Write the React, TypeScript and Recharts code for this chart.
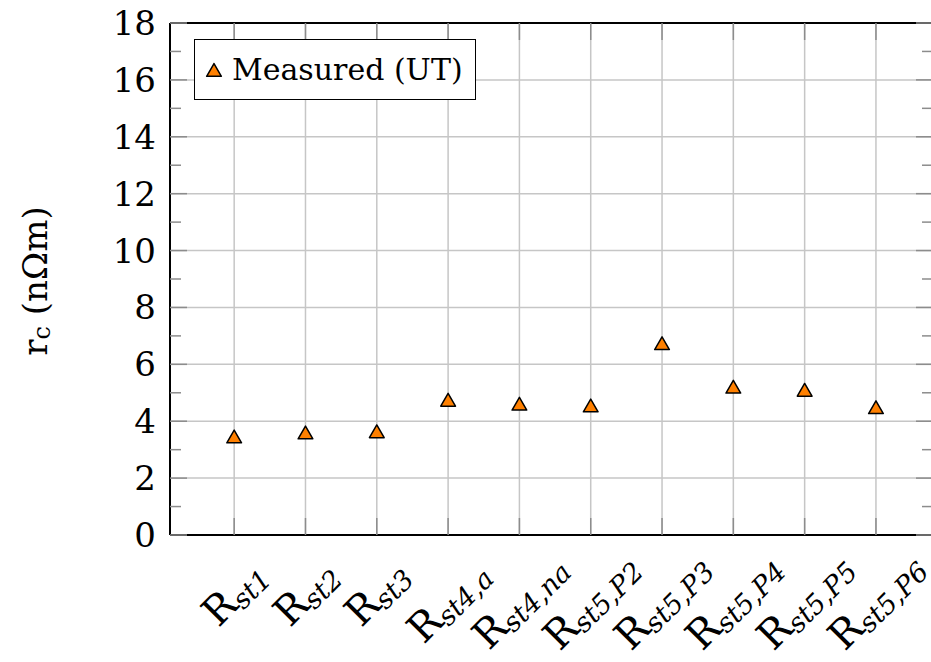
import React from "react";
import {
  ScatterChart,
  Scatter,
  XAxis,
  YAxis,
  CartesianGrid,
  Legend,
  ReferenceLine,
} from "recharts";

// subscripts of the sample names, drawn as R_{...}
const subscripts = ["st1", "st2", "st3", "st4,a", "st4,na", "st5,P2", "st5,P3", "st5,P4", "st5,P5", "st5,P6"];
// contact resistivity r_c in nOhm*m
const measured = [3.39, 3.53, 3.57, 4.68, 4.54, 4.48, 6.67, 5.14, 5.03, 4.42];
const xTicks = [1, 2, 3, 4, 5, 6, 7, 8, 9, 10];
const yMajorTicks = [0, 2, 4, 6, 8, 10, 12, 14, 16, 18];
const yAllTicks = [0, 1, 2, 3, 4, 5, 6, 7, 8, 9, 10, 11, 12, 13, 14, 15, 16, 17, 18];

const data = subscripts.map((s, i) => ({ x: xTicks[i], y: measured[i], label: s }));

const FONT = "DejaVu Serif";
const ORANGE = "#ff8000";
const GRID = "#c6c6c6";
const TICK = "#8c8c8c";

const PLOT_LEFT = 170;
const PLOT_RIGHT = 933;
const PLOT_TOP = 23;
const PLOT_BOTTOM = 535;

const Triangle = (props: any) => {
  const { cx, cy } = props;
  const r = 8.5;
  const h = r * Math.cos(Math.PI / 6);
  return (
    <polygon
      points={`${cx},${cy - r} ${cx - h},${cy + r / 2} ${cx + h},${cy + r / 2}`}
      fill={ORANGE}
      stroke="#000"
      strokeWidth={1.5}
      strokeLinejoin="round"
    />
  );
};

const XTick = (props: any) => {
  const { x, payload } = props;
  const sub = subscripts[payload.value - 1];
  const cy = sub.includes(",") ? 601 : 593;
  return (
    <g>
      <line x1={x} x2={x} y1={PLOT_BOTTOM} y2={PLOT_BOTTOM - 17} stroke={TICK} strokeWidth={1.5} />
      <line x1={x} x2={x} y1={PLOT_TOP} y2={PLOT_TOP + 17} stroke={TICK} strokeWidth={1.5} />
      <text
        x={x}
        y={cy}
        transform={`rotate(-45 ${x} ${cy})`}
        textAnchor="middle"
        dominantBaseline="central"
        fontFamily={FONT}
        fontSize={40}
        fill="#000"
      >
        R
        <tspan fontStyle="italic" fontSize={27} dy={9}>
          {sub}
        </tspan>
      </text>
    </g>
  );
};

const YTick = (props: any) => {
  const { y, payload } = props;
  const v = payload.value;
  const major = v % 2 === 0;
  const len = major ? 17 : 11;
  return (
    <g>
      <line x1={PLOT_LEFT} x2={PLOT_LEFT + len} y1={y} y2={y} stroke={TICK} strokeWidth={1.5} />
      <line x1={PLOT_RIGHT} x2={PLOT_RIGHT - len} y1={y} y2={y} stroke={TICK} strokeWidth={1.5} />
      {major && (
        <text x={156} y={y} textAnchor="end" dominantBaseline="central" fontFamily={FONT} fontSize={34} fill="#000">
          {v}
        </text>
      )}
    </g>
  );
};

const YLabel = () => (
  <text
    x={35}
    y={281}
    transform="rotate(-90 35 281)"
    textAnchor="middle"
    dominantBaseline="central"
    fontFamily={FONT}
    fontSize={34}
    fill="#000"
  >
    r
    <tspan fontSize={24} dy={7}>
      c
    </tspan>
    <tspan dy={-7}>{"  (nΩm)"}</tspan>
  </text>
);

const LegendBox = (props: any) => {
  const { payload } = props;
  const name = payload && payload.length ? payload[0].value : "";
  return (
    <div
      style={{
        width: 282,
        height: 61,
        boxSizing: "border-box",
        border: "1.5px solid #000",
        background: "#fff",
        display: "flex",
        alignItems: "center",
        fontFamily: FONT,
        fontSize: 30,
        color: "#000",
      }}
    >
      <svg width={34} height={30} style={{ marginLeft: 2 }}>
        <Triangle cx={17} cy={17} />
      </svg>
      <span style={{ marginLeft: 1, whiteSpace: "nowrap" }}>{name}</span>
    </div>
  );
};

export default function App() {
  return (
    <div
      style={{
        position: "fixed",
        left: 0,
        top: 0,
        width: 931,
        height: 662,
        overflow: "hidden",
        background: "#fff",
      }}
    >
      <ScatterChart width={960} height={662} margin={{ top: PLOT_TOP, right: 960 - PLOT_RIGHT, bottom: 0, left: 0 }}>
        <CartesianGrid stroke={GRID} strokeWidth={1.5} horizontalValues={yMajorTicks} verticalValues={xTicks} />
        <XAxis
          type="number"
          dataKey="x"
          domain={[0.1, 10.8]}
          ticks={xTicks}
          interval={0}
          allowDataOverflow
          height={127}
          tickLine={false}
          axisLine={{ stroke: "#000", strokeWidth: 2 }}
          tick={<XTick />}
        />
        <YAxis
          type="number"
          dataKey="y"
          domain={[0, 18]}
          ticks={yAllTicks}
          interval={0}
          width={PLOT_LEFT}
          tickLine={false}
          axisLine={{ stroke: "#000", strokeWidth: 2 }}
          tick={<YTick />}
          label={{ content: <YLabel /> }}
        />
        <ReferenceLine y={18} stroke="#000" strokeWidth={2} />
        <ReferenceLine x={10.8} stroke="#000" strokeWidth={2} />
        <Legend
          layout="horizontal"
          verticalAlign="middle"
          align="center"
          content={<LegendBox />}
          wrapperStyle={{ left: 194, top: 39, width: 282, height: 61 }}
        />
        <Scatter name="Measured (UT)" data={data} shape={<Triangle />} isAnimationActive={false} />
      </ScatterChart>
    </div>
  );
}
